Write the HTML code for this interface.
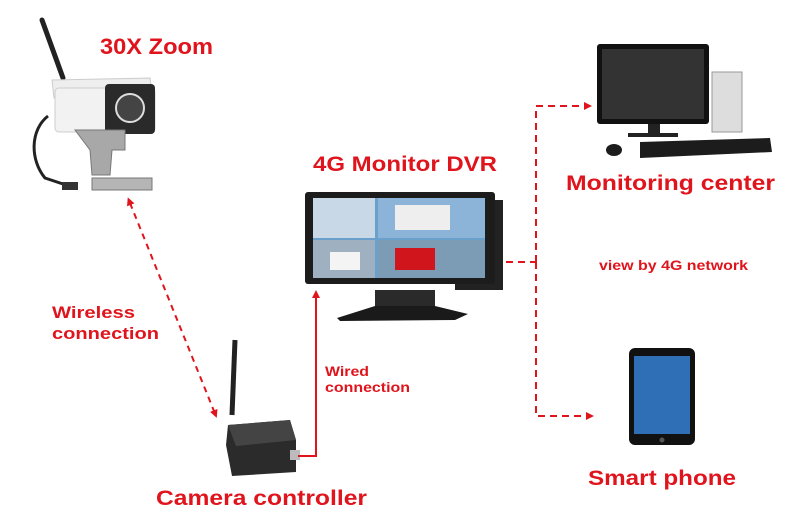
<!DOCTYPE html>
<html><head><meta charset="utf-8"><style>
html,body{margin:0;padding:0;background:#fff;}
svg{display:block;}
text{font-family:"Liberation Sans",sans-serif;font-weight:bold;fill:#e0141c;}
</style></head><body>
<svg width="800" height="524" viewBox="0 0 800 524" xmlns="http://www.w3.org/2000/svg">
<defs>
<marker id="ar" markerWidth="8" markerHeight="8" refX="6" refY="4" orient="auto" markerUnits="userSpaceOnUse">
<path d="M0,0 L8,4 L0,8 Z" fill="#e0141c"/></marker>
<marker id="ar2" markerWidth="8" markerHeight="8" refX="2" refY="4" orient="auto-start-reverse" markerUnits="userSpaceOnUse">
<path d="M0,0 L8,4 L0,8 Z" fill="#e0141c"/></marker>
</defs>

<!-- Camera -->
<line x1="42" y1="20" x2="63" y2="78" stroke="#222" stroke-width="5" stroke-linecap="round"/>
<path d="M52,80 L150,78 L152,92 L54,98 Z" fill="#eee" stroke="#ccc"/>
<rect x="55" y="88" width="100" height="44" rx="4" fill="#f2f2f2" stroke="#ccc"/>
<rect x="105" y="84" width="50" height="50" rx="4" fill="#2a2a2a"/>
<circle cx="130" cy="108" r="14" fill="#444" stroke="#ddd" stroke-width="2"/>
<path d="M48,116 C30,130 30,160 45,178 L75,188" fill="none" stroke="#222" stroke-width="3"/>
<rect x="62" y="182" width="16" height="8" fill="#333"/>
<path d="M75,130 L125,130 L125,150 L112,150 L110,175 L92,175 L90,150 Z" fill="#a8a8a8" stroke="#777"/>
<rect x="92" y="178" width="60" height="12" fill="#b5b5b5" stroke="#777"/>
<text x="100" y="54" font-size="22" textLength="113" lengthAdjust="spacingAndGlyphs">30X Zoom</text>

<!-- wireless -->
<line x1="130" y1="203" x2="216" y2="416" stroke="#e0141c" stroke-width="2" stroke-dasharray="6,5" marker-start="url(#ar2)" marker-end="url(#ar)"/>
<text x="52" y="318" font-size="17" textLength="83" lengthAdjust="spacingAndGlyphs">Wireless</text>
<text x="52" y="339" font-size="17" textLength="107" lengthAdjust="spacingAndGlyphs">connection</text>

<!-- controller -->
<line x1="232" y1="415" x2="235" y2="340" stroke="#222" stroke-width="5"/>
<path d="M228,425 L290,420 L296,440 L296,472 L232,476 L226,445 Z" fill="#2b2b2b"/>
<path d="M228,425 L290,420 L296,440 L236,446 Z" fill="#444"/>
<rect x="290" y="450" width="10" height="10" fill="#bbb"/>
<text x="156" y="505" font-size="21" textLength="211" lengthAdjust="spacingAndGlyphs">Camera controller</text>

<!-- wired -->
<polyline points="298,456 316,456 316,292" fill="none" stroke="#e0141c" stroke-width="2" marker-end="url(#ar)"/>
<text x="325" y="376" font-size="14" textLength="44" lengthAdjust="spacingAndGlyphs">Wired</text>
<text x="325" y="392" font-size="14" textLength="85" lengthAdjust="spacingAndGlyphs">connection</text>

<!-- DVR -->
<rect x="455" y="200" width="48" height="90" fill="#222"/>
<rect x="305" y="192" width="190" height="92" rx="3" fill="#1c1c1c"/>
<rect x="313" y="198" width="172" height="80" fill="#6aa0cc"/>
<rect x="313" y="198" width="62" height="40" fill="#c9d8e6"/>
<rect x="378" y="198" width="107" height="40" fill="#8bb4d8"/>
<rect x="313" y="240" width="62" height="38" fill="#9fb0c0"/>
<rect x="378" y="240" width="107" height="38" fill="#7c9bb5"/>
<rect x="395" y="205" width="55" height="25" fill="#eee"/>
<rect x="395" y="248" width="40" height="22" fill="#d0161c"/>
<rect x="330" y="252" width="30" height="18" fill="#f4f4f4"/>
<rect x="375" y="290" width="60" height="22" fill="#2a2a2a"/>
<path d="M337,318 L375,306 L435,306 L468,314 L455,320 L340,321 Z" fill="#1a1a1a"/>
<text x="313" y="171" font-size="21" textLength="184" lengthAdjust="spacingAndGlyphs">4G Monitor DVR</text>

<!-- 4G dashed -->
<polyline points="506,262 536,262" fill="none" stroke="#e0141c" stroke-width="2" stroke-dasharray="7,5"/>
<polyline points="536,262 536,106 590,106" fill="none" stroke="#e0141c" stroke-width="2" stroke-dasharray="7,5" marker-end="url(#ar)"/>
<polyline points="536,262 536,416 592,416" fill="none" stroke="#e0141c" stroke-width="2" stroke-dasharray="7,5" marker-end="url(#ar)"/>
<text x="599" y="270" font-size="14" textLength="149" lengthAdjust="spacingAndGlyphs">view by 4G network</text>

<!-- Monitoring center -->
<rect x="712" y="72" width="30" height="60" fill="#ddd" stroke="#999"/>
<rect x="597" y="44" width="112" height="80" rx="3" fill="#111"/>
<rect x="602" y="49" width="102" height="70" fill="#333"/>
<rect x="648" y="124" width="12" height="10" fill="#222"/>
<rect x="628" y="133" width="50" height="4" fill="#222"/>
<path d="M640,142 L770,138 L772,152 L640,158 Z" fill="#1c1c1c"/>
<ellipse cx="614" cy="150" rx="8" ry="6" fill="#1c1c1c"/>
<text x="566" y="190" font-size="21" textLength="209" lengthAdjust="spacingAndGlyphs">Monitoring center</text>

<!-- Smart phone -->
<rect x="629" y="348" width="66" height="97" rx="6" fill="#111"/>
<rect x="634" y="356" width="56" height="78" fill="#2f6fb6"/>
<circle cx="662" cy="440" r="2.5" fill="#555"/>
<text x="588" y="485" font-size="21" textLength="148" lengthAdjust="spacingAndGlyphs">Smart phone</text>
</svg>
</body></html>
